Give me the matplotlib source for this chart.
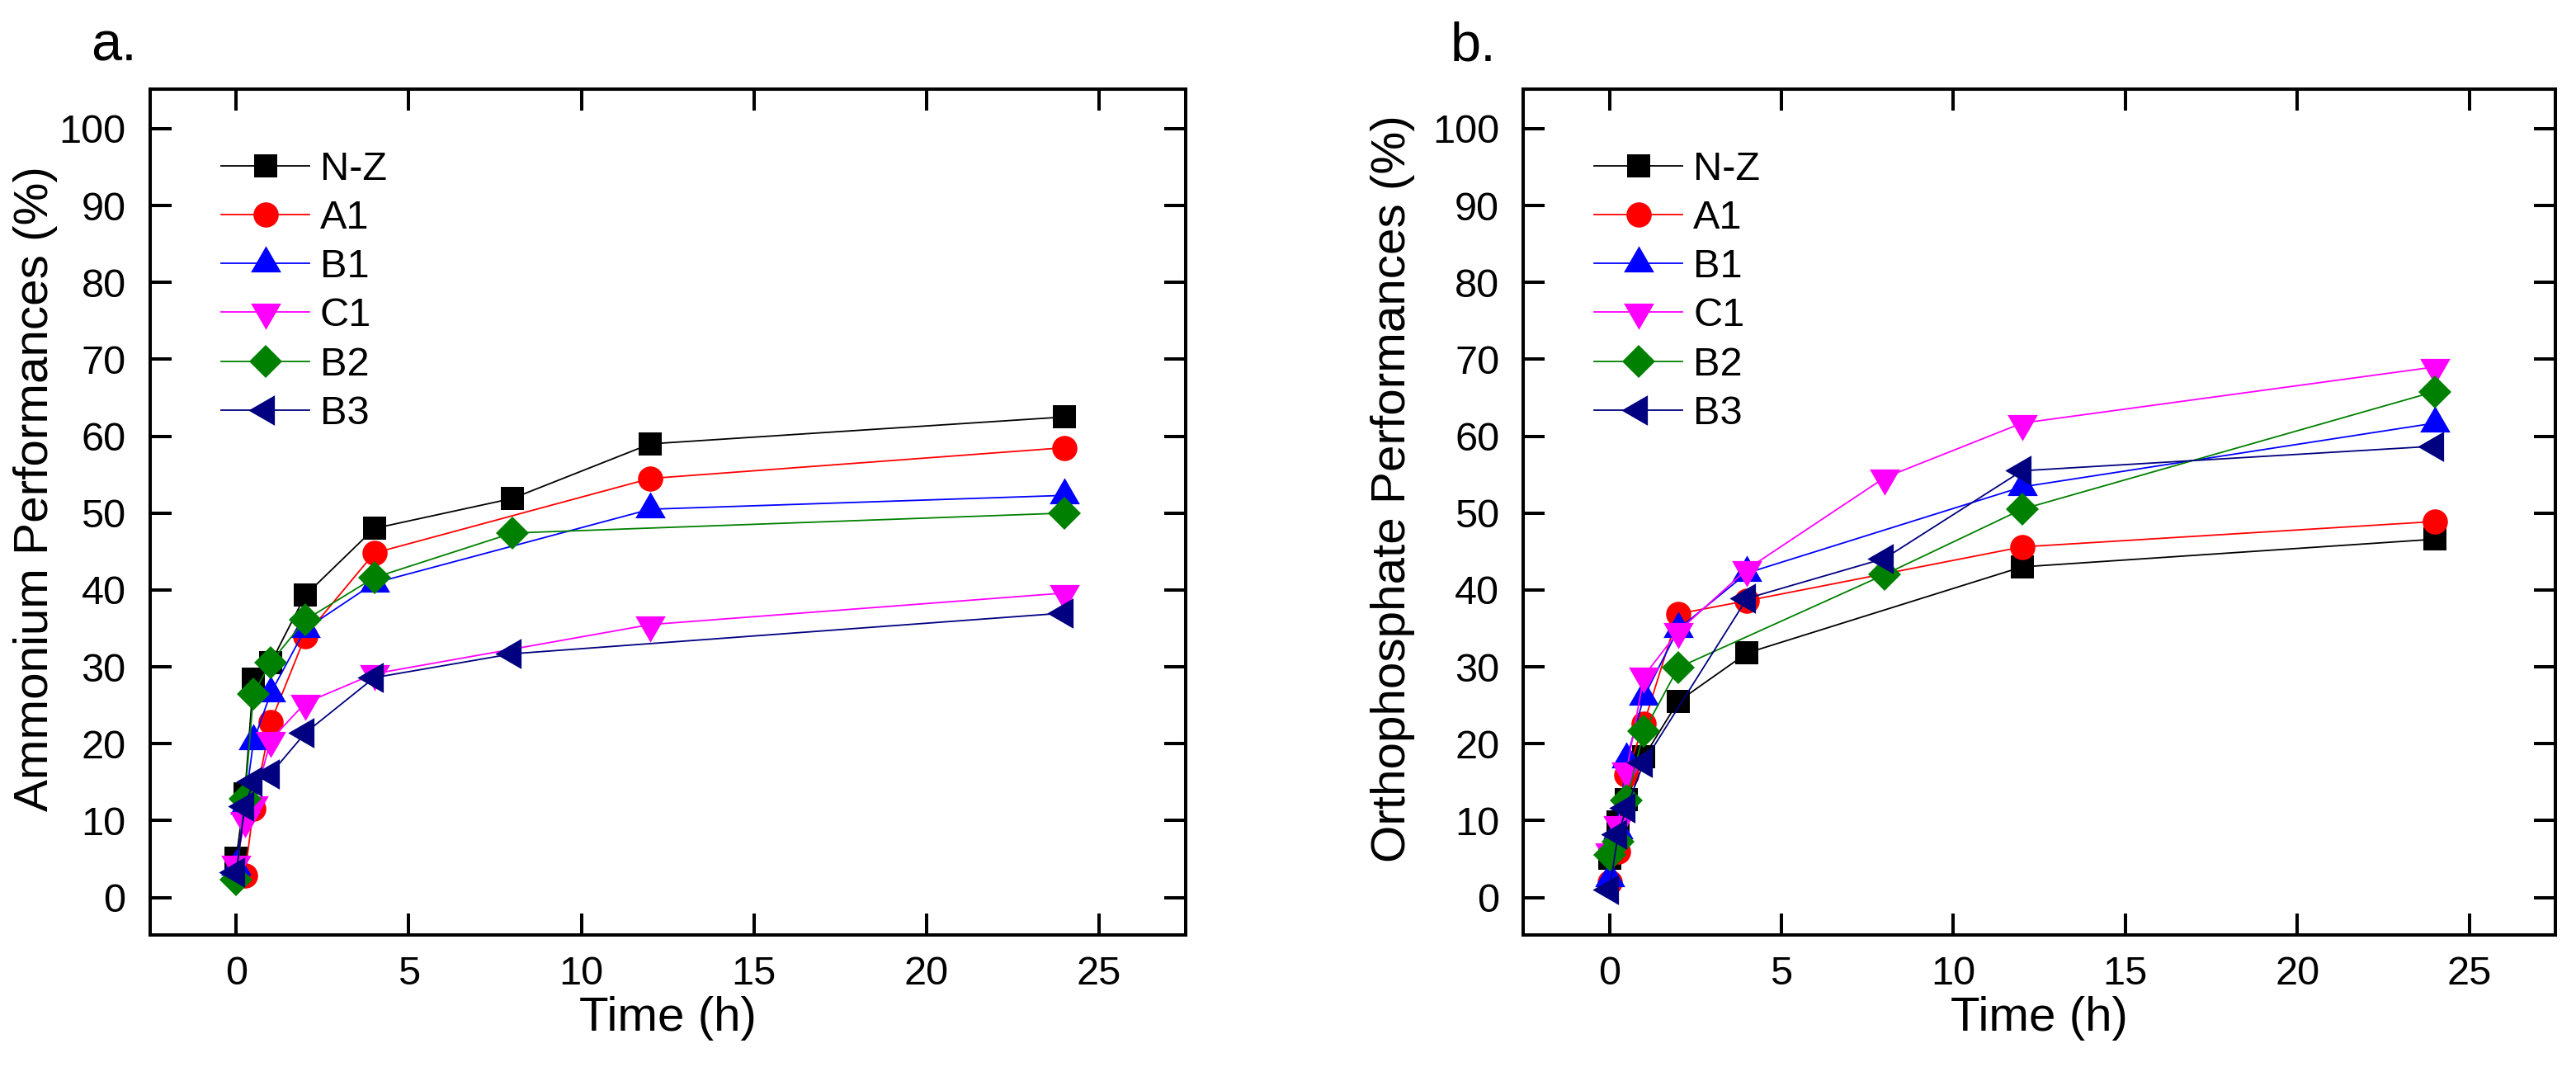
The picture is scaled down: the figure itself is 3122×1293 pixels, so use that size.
import matplotlib
matplotlib.use("Agg")
import matplotlib.pyplot as plt

plt.rcParams['font.family'] = ['Liberation Sans', 'DejaVu Sans']

# ---------------- data ----------------
series_names = ["N-Z", "A1", "B1", "C1", "B2", "B3"]

# panel a : Ammonium performances (%)
nz_a_t = [0, 0.25, 0.5, 1, 2, 4, 8, 12, 24]
nz_a_v = [5.1, 13.5, 28.4, 30.5, 39.3, 48.0, 51.9, 59.0, 62.5]
a1_a_t = [0.25, 0.5, 1, 2, 4, 12, 24]
a1_a_v = [2.9, 11.6, 22.8, 34.0, 44.8, 54.5, 58.5]
b1_a_t = [0, 0.25, 0.5, 1, 2, 4, 12, 24]
b1_a_v = [4.0, 12.0, 20.3, 26.6, 34.9, 40.9, 50.5, 52.3]
c1_a_t = [0, 0.25, 0.5, 1, 2, 4, 12, 24]
c1_a_v = [4.4, 10.0, 12.1, 20.5, 25.3, 29.1, 35.5, 39.6]
b2_a_t = [0, 0.25, 0.5, 1, 2, 4, 8, 24]
b2_a_v = [2.3, 12.8, 26.5, 30.6, 36.1, 41.6, 47.4, 50.0]
b3_a_t = [0, 0.25, 0.5, 1, 2, 4, 8, 24]
b3_a_v = [3.3, 11.9, 15.1, 16.1, 21.4, 28.6, 31.7, 37.0]

# panel b : Orthophosphate performances (%)
nz_b_t = [0, 0.25, 0.5, 1, 2, 4, 12, 24]
nz_b_v = [5.1, 9.8, 12.7, 18.3, 25.5, 31.8, 43.0, 46.6]
a1_b_t = [0, 0.25, 0.5, 1, 2, 4, 12, 24]
a1_b_v = [2.0, 6.0, 16.0, 22.6, 36.9, 38.6, 45.6, 48.9]
b1_b_t = [0, 0.25, 0.5, 1, 2, 4, 12, 24]
b1_b_v = [2.5, 8.8, 18.0, 26.1, 34.9, 42.2, 53.4, 61.7]
c1_b_t = [0, 0.25, 0.5, 1, 2, 4, 8, 12, 24]
c1_b_v = [6.0, 9.5, 16.5, 28.8, 34.6, 42.7, 54.6, 61.7, 69.0]
b2_b_t = [0, 0.25, 0.5, 1, 2, 8, 12, 24]
b2_b_v = [5.5, 7.3, 12.6, 21.6, 29.9, 42.0, 50.5, 65.8]
b3_b_t = [0, 0.25, 0.5, 1, 4, 8, 12, 24]
b3_b_v = [1.0, 8.2, 11.7, 17.6, 38.9, 44.1, 55.5, 58.7]

x_ticks = [0, 5, 10, 15, 20, 25]
y_ticks = [0, 10, 20, 30, 40, 50, 60, 70, 80, 90, 100]

# ---------------- styles ----------------
tri_up = [(0, 0.577), (-0.5, -0.289), (0.5, -0.289), (0, 0.577)]
tri_down = [(0, -0.577), (-0.5, 0.289), (0.5, 0.289), (0, -0.577)]
tri_left = [(-0.577, 0), (0.289, 0.5), (0.289, -0.5), (-0.577, 0)]

styles = {
    "N-Z": dict(color="#000000", marker="s", ms=19.7),
    "A1": dict(color="#FF0000", marker="o", ms=22.0),
    "B1": dict(color="#0000FF", marker=tri_up, ms=30.5),
    "C1": dict(color="#FF00FF", marker=tri_down, ms=30.5),
    "B2": dict(color="#008000", marker="D", ms=20.0),
    "B3": dict(color="#000080", marker=tri_left, ms=30.5),
}

panel_a = [(nz_a_t, nz_a_v), (a1_a_t, a1_a_v), (b1_a_t, b1_a_v),
           (c1_a_t, c1_a_v), (b2_a_t, b2_a_v), (b3_a_t, b3_a_v)]
panel_b = [(nz_b_t, nz_b_v), (a1_b_t, a1_b_v), (b1_b_t, b1_b_v),
           (c1_b_t, c1_b_v), (b2_b_t, b2_b_v), (b3_b_t, b3_b_v)]

W, H = 3122, 1293
fig = plt.figure(figsize=(W / 100, H / 100), dpi=100)
fig.patch.set_facecolor("white")

ax_a = fig.add_axes([181.7 / W, (H - 1133.3) / H, 1255 / W, 1025 / H])
ax_b = fig.add_axes([1846.4 / W, (H - 1133.3) / H, 1250.3 / W, 1025 / H])

def draw(ax, data, ylabel, tag, tag_x, ylab_x):
    for name, (t, v) in zip(series_names, data):
        st = styles[name]
        ax.plot(t, v, color=st["color"], lw=1.3, marker=st["marker"],
                ms=st["ms"], mfc=st["color"], mec=st["color"], mew=0,
                label=name)
    ax.set_xlim(-2.5, 27.5)
    ax.set_ylim(-4.9, 105.1)
    ax.set_xticks(x_ticks)
    ax.set_yticks(y_ticks)
    ax.tick_params(direction="in", length=19, width=2.9, labelsize=35,
                   top=True, right=True, pad=21)
    ax.tick_params(axis="x", pad=18)
    for sp in ax.spines.values():
        sp.set_linewidth(2.9)
    ax.set_xlabel("Time (h)", fontsize=42)
    ax.set_ylabel(ylabel, fontsize=42)
    ax.xaxis.set_label_coords(0.5, -0.072)
    ax.yaxis.set_label_coords(ylab_x, 0.528)
    ax.legend(loc="upper left", bbox_to_anchor=(0.0688, 0.927),
              frameon=False, fontsize=35, handlelength=2.2,
              handletextpad=0.26, labelspacing=0.29, borderpad=0,
              borderaxespad=0)
    fig.text(tag_x, 1 - 73 / H, tag, fontsize=48, ha="left", va="baseline")

draw(ax_a, panel_a, "Ammonium Performances (%)", "a.", 110 / W, -0.089)
draw(ax_b, panel_b, "Orthophosphate Performances (%)", "b.", 1758 / W, -0.105)

fig.savefig("out.png", dpi=100, facecolor="white")
